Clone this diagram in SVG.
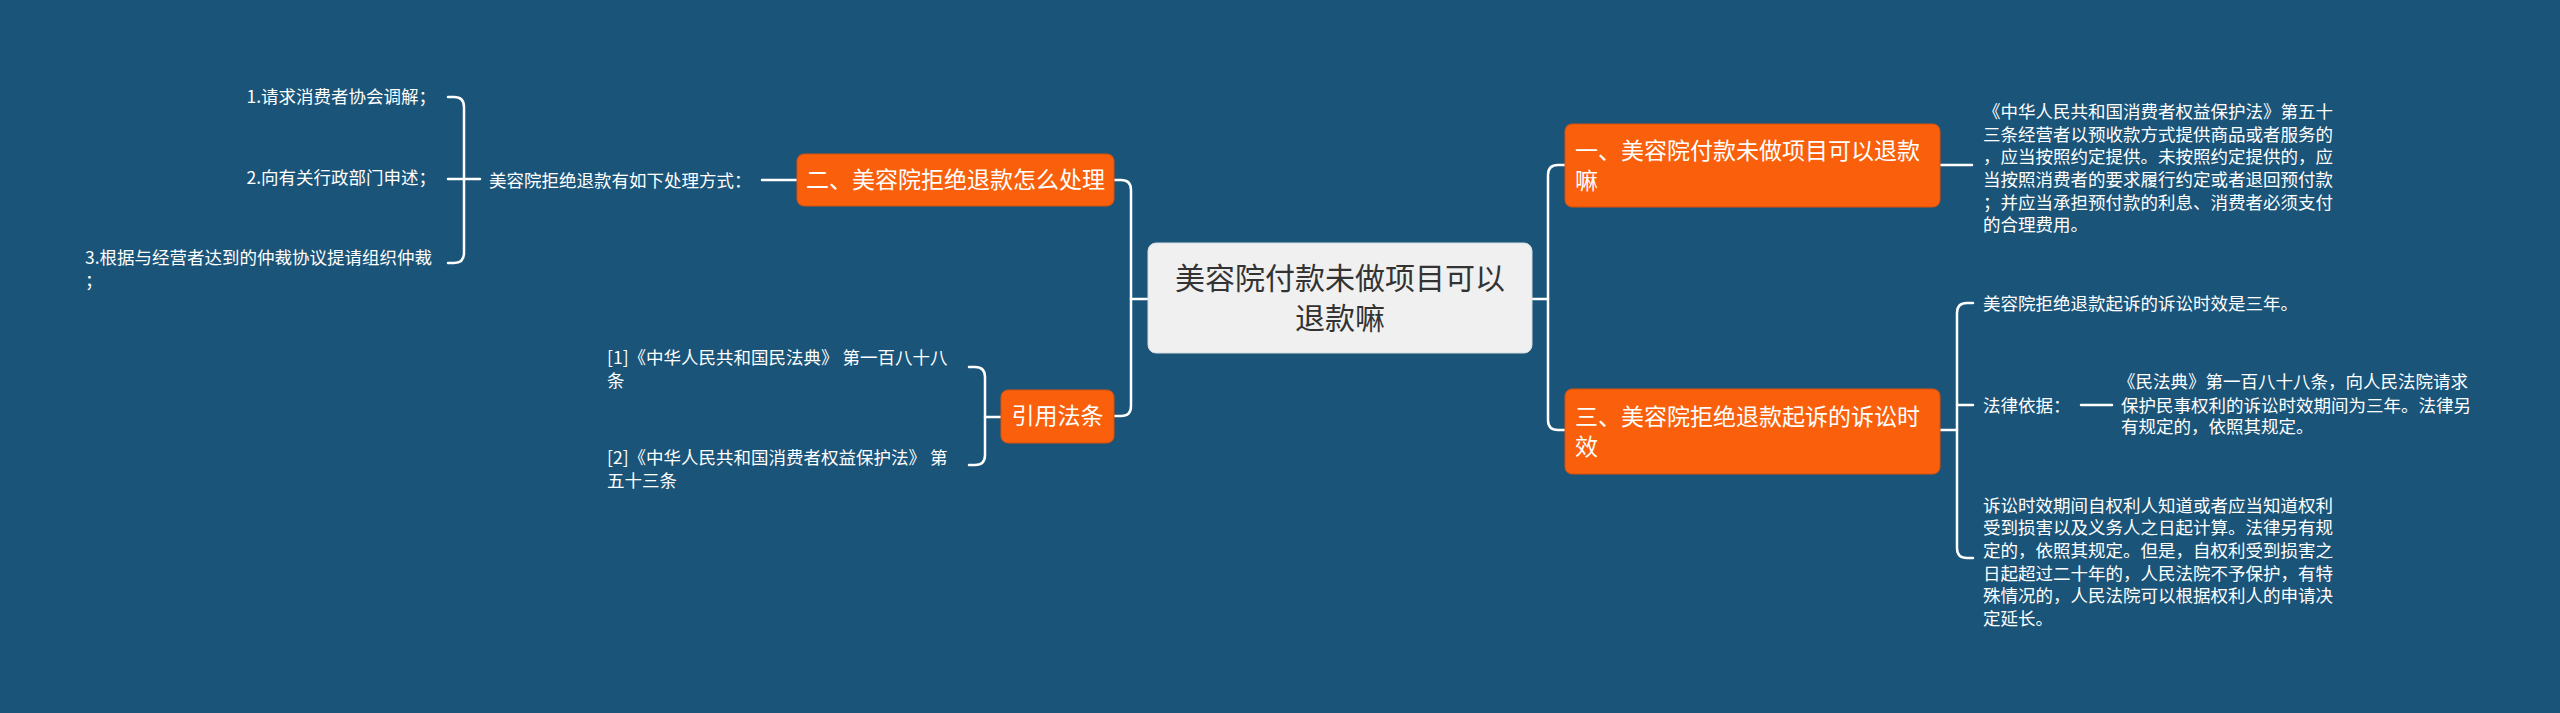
<svg xmlns="http://www.w3.org/2000/svg" width="2560" height="713" viewBox="0 0 2560 713">
<defs>
<style>
.bg{fill:#1a5479}
.lk{fill:none;stroke:#ffffff;stroke-width:2.5;stroke-linecap:round;stroke-linejoin:round}
.on{fill:#fa5f0b;stroke:#d8500a;stroke-width:1}
.cn{fill:#f0f0f0;stroke:#d6dde2;stroke-width:1}
.ot{font-family:"Noto Sans CJK SC","Noto Sans",sans-serif;font-size:23px;fill:#ffffff}
.ct{font-family:"Noto Sans CJK SC","Noto Sans",sans-serif;font-size:30px;fill:#333333;text-anchor:middle}
.lt{font-family:"Noto Sans CJK SC","Noto Sans",sans-serif;font-size:17.5px;fill:#ffffff}
.end{text-anchor:end}
.mid{text-anchor:middle}
</style>
</defs>
<rect class="bg" x="0" y="0" width="2560" height="713"/>

<g id="connectors">
  <!-- center left -->
  <path class="lk" d="M1148,299 H1131"/>
  <path class="lk" d="M1114,180 H1121 Q1131,180 1131,190 V406 Q1131,416 1121,416 H1114"/>
  <!-- center right -->
  <path class="lk" d="M1532,299 H1548"/>
  <path class="lk" d="M1565,165 H1558 Q1548,165 1548,175 V420 Q1548,430 1558,430 H1565"/>
  <!-- node 一 to text -->
  <path class="lk" d="M1940,165 H1972"/>
  <!-- node 三 bracket -->
  <path class="lk" d="M1940,430 H1957"/>
  <path class="lk" d="M1973,303 H1967 Q1957,303 1957,313 V548 Q1957,558 1967,558 H1973"/>
  <path class="lk" d="M1957,405 H1973"/>
  <path class="lk" d="M2081,405 H2112"/>
  <!-- node 二 to its child -->
  <path class="lk" d="M762,180 H797"/>
  <path class="lk" d="M448,97 H454 Q464,97 464,107 V253 Q464,263 454,263 H448"/>
  <path class="lk" d="M448,179 H480"/>
  <!-- 引用法条 bracket -->
  <path class="lk" d="M1001,417 H985"/>
  <path class="lk" d="M969,367 H975 Q985,367 985,377 V455 Q985,465 975,465 H969"/>
</g>

<g id="center">
  <rect class="cn" x="1148" y="243" width="384" height="110" rx="8"/>
  <text class="ct" x="1340" y="289">美容院付款未做项目可以</text>
  <text class="ct" x="1340" y="329">退款嘛</text>
</g>

<g id="node-1">
  <rect class="on" x="1565" y="124" width="375" height="83" rx="7"/>
  <text class="ot" x="1575" y="159">一、美容院付款未做项目可以退款</text>
  <text class="ot" x="1575" y="189">嘛</text>
</g>

<g id="node-1-text">
  <text class="lt" x="1983" y="118">《中华人民共和国消费者权益保护法》第五十</text>
  <text class="lt" x="1983" y="140.7">三条经营者以预收款方式提供商品或者服务的</text>
  <text class="lt" x="1983" y="163.4">，应当按照约定提供。未按照约定提供的，应</text>
  <text class="lt" x="1983" y="186">当按照消费者的要求履行约定或者退回预付款</text>
  <text class="lt" x="1983" y="208.7">；并应当承担预付款的利息、消费者必须支付</text>
  <text class="lt" x="1983" y="231.4">的合理费用。</text>
</g>

<g id="node-3">
  <rect class="on" x="1565" y="389" width="375" height="85" rx="7"/>
  <text class="ot" x="1575" y="425">三、美容院拒绝退款起诉的诉讼时</text>
  <text class="ot" x="1575" y="455">效</text>
</g>

<g id="leaf-3a">
  <text class="lt" x="1983" y="309.5">美容院拒绝退款起诉的诉讼时效是三年。</text>
</g>
<g id="leaf-3b">
  <text class="lt" x="1983" y="411.5">法律依据：</text>
</g>
<g id="leaf-3b-text">
  <text class="lt" x="2118" y="388.2">《民法典》第一百八十八条，向人民法院请求</text>
  <text class="lt" x="2121" y="411.5">保护民事权利的诉讼时效期间为三年。法律另</text>
  <text class="lt" x="2121" y="433.2">有规定的，依照其规定。</text>
</g>
<g id="leaf-3c">
  <text class="lt" x="1983" y="511.5">诉讼时效期间自权利人知道或者应当知道权利</text>
  <text class="lt" x="1983" y="534.2">受到损害以及义务人之日起计算。法律另有规</text>
  <text class="lt" x="1983" y="556.9">定的，依照其规定。但是，自权利受到损害之</text>
  <text class="lt" x="1983" y="579.6">日起超过二十年的，人民法院不予保护，有特</text>
  <text class="lt" x="1983" y="602.3">殊情况的，人民法院可以根据权利人的申请决</text>
  <text class="lt" x="1983" y="625">定延长。</text>
</g>

<g id="node-2">
  <rect class="on" x="797" y="154" width="317" height="52" rx="7"/>
  <text class="ot mid" x="955.5" y="188">二、美容院拒绝退款怎么处理</text>
</g>
<g id="leaf-2-parent">
  <text class="lt" x="489" y="186.5">美容院拒绝退款有如下处理方式：</text>
</g>
<g id="leaf-2-1">
  <text class="lt end" x="436" y="102.5">1.请求消费者协会调解；</text>
</g>
<g id="leaf-2-2">
  <text class="lt end" x="436" y="183.5">2.向有关行政部门申述；</text>
</g>
<g id="leaf-2-3">
  <text class="lt" x="85" y="263.5">3.根据与经营者达到的仲裁协议提请组织仲裁</text>
  <text class="lt" x="85" y="286.5">；</text>
</g>

<g id="node-4">
  <rect class="on" x="1001" y="390" width="113" height="53" rx="7"/>
  <text class="ot mid" x="1057.5" y="424">引用法条</text>
</g>
<g id="leaf-4-1">
  <text class="lt" x="607" y="363.5">[1]《中华人民共和国民法典》 第一百八十八</text>
  <text class="lt" x="607" y="386.5">条</text>
</g>
<g id="leaf-4-2">
  <text class="lt" x="607" y="463.5">[2]《中华人民共和国消费者权益保护法》 第</text>
  <text class="lt" x="607" y="486.5">五十三条</text>
</g>
</svg>
